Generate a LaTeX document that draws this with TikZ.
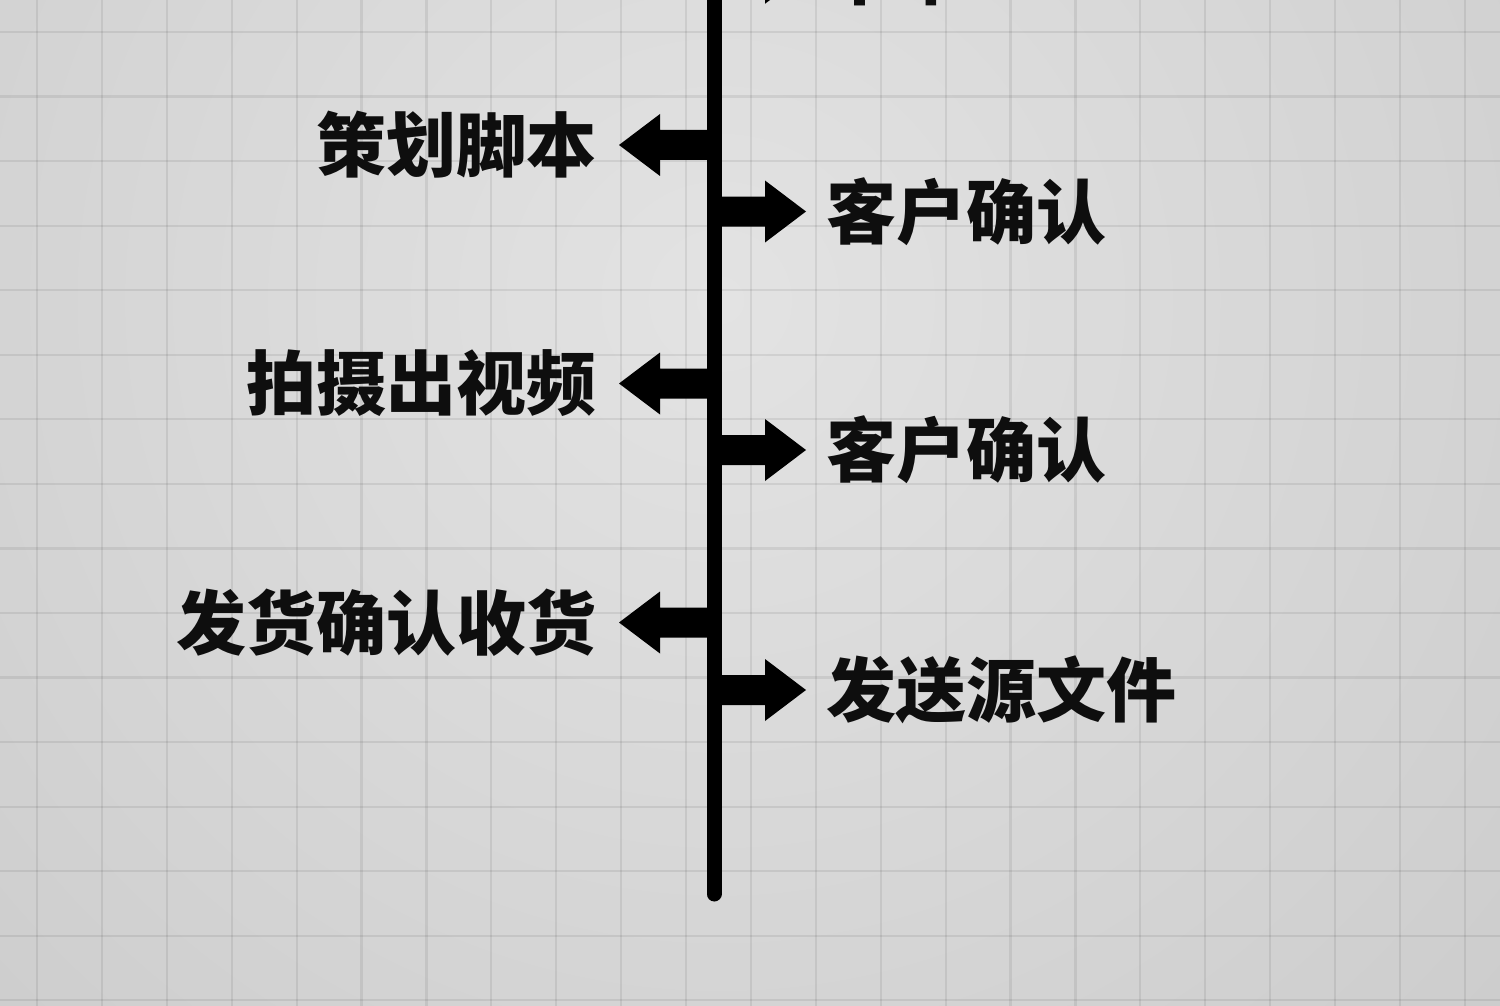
\documentclass[tikz,border=0pt]{standalone}
\usepackage{fontspec}
\newfontfamily\cjk{Noto Sans CJK SC}
\definecolor{bgin}{HTML}{E3E3E3}
\definecolor{bgout}{HTML}{B9B9B9}
\definecolor{ink}{HTML}{0E0E0E}
\pgfdeclareradialshading{bgglow}{\pgfpoint{0bp}{0bp}}{color(0bp)=(bgin); color(50bp)=(bgout); color(72bp)=(bgout)}
\tikzset{
  gridln/.style={line width=2.2pt, draw=black, draw opacity=0.075},
  lbl/.style={font=\cjk\bfseries\fontsize{70}{70}\selectfont, text=ink, inner sep=0pt},
  spine/.style={line width=15pt, line cap=round, draw=black},
  rarrow/.pic={\fill[black] (-1,-15) -- (51,-15) -- (51,-31) -- (92,0) -- (51,31) -- (51,15) -- (-1,15) -- cycle;},
  larrow/.pic={\fill[black] (1,-15) -- (-54,-15) -- (-54,-31) -- (-95,0) -- (-54,31) -- (-54,15) -- (1,15) -- cycle;}
}
\begin{document}
\begin{tikzpicture}[x=1pt,y=-1pt]
\useasboundingbox (0,0) rectangle (1500,1006);
\clip (0,0) rectangle (1500,1006);
% background
\shade[shading=bgglow] (-280,-700) rectangle (1720,1300);
\foreach \i in {0,...,22} \draw[gridln] ({37+64.9*\i},0) -- ({37+64.9*\i},1006);
\foreach \j in {0,...,15} \draw[gridln] (0,{32+64.55*\j}) -- (1500,{32+64.55*\j});
% spine
\coordinate (stop) at (714,-30);
\coordinate (sbot) at (714,894);
\draw[spine] (stop) -- (sbot);
% arrows
\pic at (714,-27.2) {rarrow};
\pic at (714,145) {larrow};
\pic at (714,211.5) {rarrow};
\pic at (714,383.5) {larrow};
\pic at (714,450) {rarrow};
\pic at (714,622.5) {larrow};
\pic at (714,690) {rarrow};
% labels
\node[lbl, anchor=west] (r0) at (826,-27.2) {下单};
\node[lbl, anchor=east] (l1) at (597,145) {策划脚本};
\node[lbl, anchor=west] (r1) at (826,211.5) {客户确认};
\node[lbl, anchor=east] (l2) at (597,383.5) {拍摄出视频};
\node[lbl, anchor=west] (r2) at (826,450) {客户确认};
\node[lbl, anchor=east] (l3) at (597,622.5) {发货确认收货};
\node[lbl, anchor=west] (r3) at (826,690) {发送源文件};
\end{tikzpicture}
\end{document}
